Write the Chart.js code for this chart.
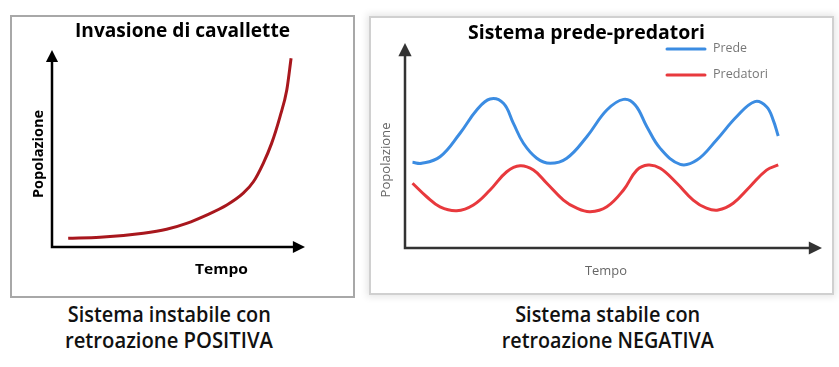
<!DOCTYPE html>
<html>
<head>
<meta charset="utf-8">
<script src="https://cdn.jsdelivr.net/npm/chart.js@4.4.0/dist/chart.umd.min.js"></script>
<style>
  body { margin: 0; background: #fff; width: 839px; height: 367px; position: relative; overflow: hidden; font-family: 'Open Sans', sans-serif; }
  .panel { position: absolute; box-sizing: border-box; background: #fff; }
  #leftPanel { left: 10px; top: 15px; width: 345px; height: 283px; border: 2px solid #a8a8a8; }
  #rightPanel { left: 369px; top: 16px; width: 465px; height: 279px; border: 2px solid #d0d0d0; box-shadow: 0 0 7px 2px rgba(0,0,0,0.10); }
  canvas { position: absolute; }
  #leftChart { left: 10px; top: 15px; }
  #rightChart { left: 369px; top: 16px; }
  .caption { position: absolute; width: 300px; text-align: center; font-size: 21px; font-weight: 600; line-height: 26px; color: #111; white-space: nowrap; }
  .caption span { display: inline-block; transform-origin: center; }
</style>
</head>
<body>
<div class="panel" id="leftPanel"></div>
<div class="panel" id="rightPanel"></div>
<canvas id="leftChart" width="345" height="283"></canvas>
<canvas id="rightChart" width="465" height="279"></canvas>
<div class="caption" id="capLeft" style="left:19px; top:301px;"></div>
<div class="caption" id="capRight" style="left:458px; top:301px;"></div>

<script>
// left: invasione di cavallette (exponential growth)
const leftTitle = 'Invasione di cavallette';
const leftTime = [6.4, 19.0, 36.1, 45.3, 53.2, 61.1, 69.1, 75.6, 79.6, 83.5, 86.8, 90.1, 92.8, 94.5];
const leftPop = [4.4, 4.9, 7.0, 9.0, 12.0, 16.2, 21.3, 27.3, 33.1, 42.5, 52.6, 66.1, 79.7, 95.8];

// right: prede / predatori
const rightTitle = 'Sistema prede-predatori';
const seriesNames = ['Prede', 'Predatori'];
const preyTime = [1.8, 4.0, 8.4, 13.2, 17.2, 20.4, 23.6, 26.0, 28.4, 31.6, 34.8, 38.8, 43.6, 48.4, 52.4, 55.2, 58.0, 61.2, 66.0, 70.0, 74.7, 79.5, 83.9, 86.7, 88.3, 89.5];
const preyPop = [41.8, 41.3, 44.5, 56.0, 67.3, 72.7, 70.6, 60.8, 51.1, 43.8, 41.3, 43.8, 54.3, 67.3, 72.5, 69.8, 59.2, 48.6, 40.8, 42.9, 52.7, 64.0, 71.4, 68.9, 62.4, 54.6];
const predTime = [1.8, 5.2, 8.4, 12.4, 16.4, 20.4, 24.4, 27.6, 30.8, 34.0, 38.0, 41.2, 44.4, 48.4, 52.4, 55.6, 58.3, 61.2, 65.2, 69.1, 72.3, 75.1, 78.7, 82.7, 86.7, 89.5];
const predPop = [31.6, 25.0, 20.1, 18.2, 21.0, 28.3, 37.2, 40.1, 38.0, 31.6, 23.4, 19.4, 17.7, 20.1, 28.3, 38.0, 40.5, 38.9, 31.6, 23.4, 19.4, 18.5, 21.8, 29.9, 38.0, 40.5];

const axisNames = ['Tempo', 'Popolazione'];
const captionsLeft = ['Sistema instabile con', 'retroazione POSITIVA'];
const captionsRight = ['Sistema stabile con', 'retroazione NEGATIVA'];

function toPoints(xs, ys) {
  return xs.map((x, i) => ({ x: x, y: ys[i] }));
}

// text squeezed/stretched to the width it has in the picture
function fitText(ctx, t) {
  ctx.save();
  ctx.font = t.font;
  ctx.fillStyle = t.color;
  ctx.textAlign = 'center';
  ctx.textBaseline = t.baseline || 'alphabetic';
  ctx.translate(t.x, t.y);
  if (t.rot) ctx.rotate(t.rot);
  const m = ctx.measureText(t.text).width;
  ctx.scale(t.w / m, 1);
  ctx.fillText(t.text, 0, 0);
  ctx.restore();
}

const decor = {
  id: 'decor',
  beforeDatasetsDraw(chart, args, o) {
    const ctx = chart.ctx, a = chart.chartArea, h = o.head;
    ctx.save();
    ctx.strokeStyle = o.axisColor;
    ctx.fillStyle = o.axisColor;
    ctx.lineWidth = o.axisWidth;
    ctx.beginPath();
    ctx.moveTo(a.left, a.top + h);
    ctx.lineTo(a.left, a.bottom);
    ctx.lineTo(a.right - h, a.bottom);
    ctx.stroke();
    ctx.beginPath();
    ctx.moveTo(a.left, a.top);
    ctx.lineTo(a.left - h * 0.55, a.top + h * 1.1);
    ctx.lineTo(a.left + h * 0.55, a.top + h * 1.1);
    ctx.closePath();
    ctx.fill();
    ctx.beginPath();
    ctx.moveTo(a.right, a.bottom);
    ctx.lineTo(a.right - h * 1.1, a.bottom - h * 0.55);
    ctx.lineTo(a.right - h * 1.1, a.bottom + h * 0.55);
    ctx.closePath();
    ctx.fill();
    ctx.restore();
  },
  afterDraw(chart, args, o) {
    const ctx = chart.ctx;
    o.texts.forEach(t => fitText(ctx, t));
    if (o.legend) {
      const L = o.legend;
      chart.data.datasets.forEach((ds, i) => {
        const y = L.y + i * L.rowH;
        ctx.save();
        ctx.strokeStyle = ds.borderColor;
        ctx.lineWidth = ds.borderWidth;
        ctx.lineCap = 'round';
        ctx.beginPath();
        ctx.moveTo(L.x, y);
        ctx.lineTo(L.x + L.lineLen, y);
        ctx.stroke();
        ctx.restore();
        fitText(ctx, { text: ds.label, x: L.x + L.lineLen + L.gap + L.widths[i] / 2, y: y, w: L.widths[i],
          font: L.font, color: L.color, baseline: 'middle' });
      });
    }
  }
};

const hiddenScales = {
  x: { type: 'linear', min: 0, max: 100, display: false },
  y: { type: 'linear', min: 0, max: 100, display: false }
};

new Chart(document.getElementById('leftChart'), {
  type: 'line',
  data: {
    datasets: [{
      label: 'Popolazione',
      data: toPoints(leftTime, leftPop),
      borderColor: '#a8171d',
      borderWidth: 3,
      pointRadius: 0,
      cubicInterpolationMode: 'monotone'
    }]
  },
  options: {
    responsive: false,
    animation: false,
    layout: { padding: { left: 42, top: 35, right: 50, bottom: 51 } },
    scales: hiddenScales,
    plugins: {
      legend: { display: false },
      tooltip: { enabled: false },
      decor: {
        axisColor: '#000', axisWidth: 2.5, head: 11,
        texts: [
          { text: leftTitle, x: 172.5, y: 22, w: 215, font: 'bold 19px "Open Sans"', color: '#000' },
          { text: axisNames[1], x: 29, y: 139, w: 88, font: 'bold 14px "Open Sans"', color: '#000', rot: -Math.PI / 2, baseline: 'middle' },
          { text: axisNames[0], x: 211.5, y: 259, w: 53, font: 'bold 15px "Open Sans"', color: '#000' }
        ]
      }
    }
  },
  plugins: [decor]
});

new Chart(document.getElementById('rightChart'), {
  type: 'line',
  data: {
    datasets: [{
      label: seriesNames[0],
      data: toPoints(preyTime, preyPop),
      borderColor: '#3b8ce2',
      borderWidth: 3,
      pointRadius: 0,
      tension: 0.4
    }, {
      label: seriesNames[1],
      data: toPoints(predTime, predPop),
      borderColor: '#e8393d',
      borderWidth: 3,
      pointRadius: 0,
      tension: 0.4
    }]
  },
  options: {
    responsive: false,
    animation: false,
    layout: { padding: { left: 36, top: 27, right: 12, bottom: 47 } },
    scales: hiddenScales,
    plugins: {
      legend: { display: false },
      tooltip: { enabled: false },
      decor: {
        axisColor: '#333', axisWidth: 2.5, head: 12,
        texts: [
          { text: rightTitle, x: 217.5, y: 23, w: 237, font: 'bold 20px "Open Sans"', color: '#000' },
          { text: axisNames[1], x: 18, y: 144, w: 75, font: '12px "Open Sans"', color: '#666', rot: -Math.PI / 2, baseline: 'middle' },
          { text: axisNames[0], x: 237, y: 259, w: 42, font: '12px "Open Sans"', color: '#666' }
        ],
        legend: { x: 298, y: 33, rowH: 26, lineLen: 38, gap: 8, widths: [34, 55], font: '12px "Open Sans"', color: '#777' }
      }
    }
  },
  plugins: [decor]
});

// captions under the panels
function setCaption(id, lines, widths) {
  const el = document.getElementById(id);
  lines.forEach((line, i) => {
    const span = document.createElement('span');
    span.textContent = line;
    el.appendChild(span);
    if (i < lines.length - 1) el.appendChild(document.createElement('br'));
    const w = span.getBoundingClientRect().width;
    span.style.transform = 'scaleX(' + (widths[i] / w) + ')';
  });
}
setCaption('capLeft', captionsLeft, [203, 208]);
setCaption('capRight', captionsRight, [185, 212]);
</script>
</body>
</html>
